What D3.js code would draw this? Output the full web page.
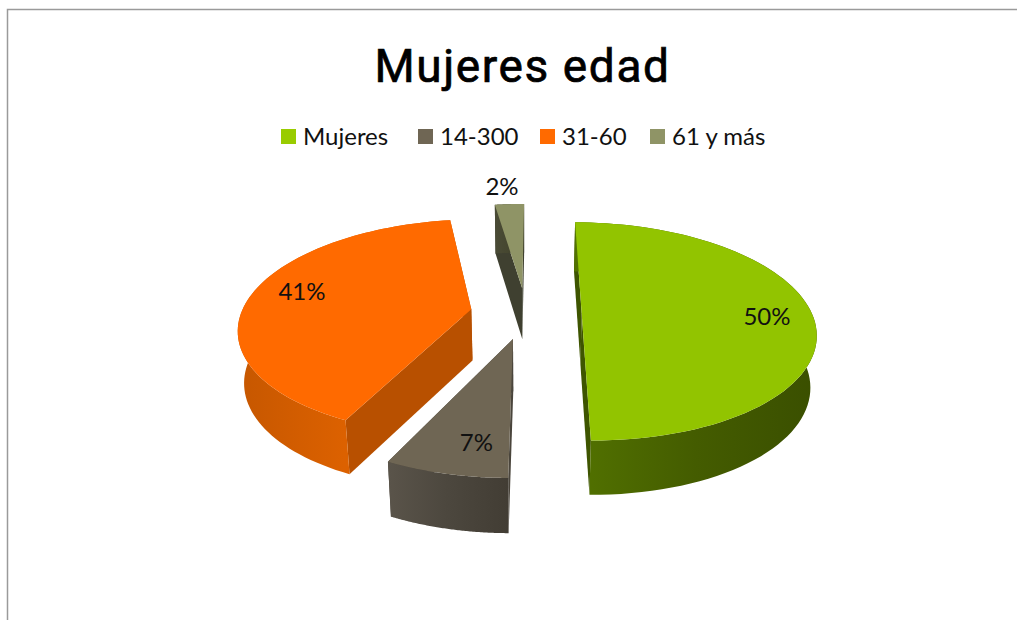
<!DOCTYPE html>
<html>
<head>
<meta charset="utf-8">
<script src="https://cdn.jsdelivr.net/npm/d3@7/dist/d3.min.js"></script>
<style>
html,body{margin:0;padding:0;background:#fff;overflow:hidden}
svg{display:block}
</style>
</head>
<body>
<svg id="chart" width="1017" height="620"></svg>
<script>
const title = "Mujeres edad";
const categories = ["Mujeres", "14-300", "31-60", "61 y más"];
const percents = [50, 7, 40.55, 2.45];
const legendColors = ["#99cc00", "#6f6654", "#ff6a00", "#8f9466"];
const topColors = ["#92c400", "#6f6654", "#ff6a00", "#8f9466"];
const wallStart = ["#527200", "#5a544a", "#c65700", "#4a4b36"];
const wallMid = ["#445c00", "#4c473e", "#dc6100", "#45462f"];
const wallEnd = ["#3a4f00", "#423d34", "#dc6100", "#3e3f2c"];
const cutColors = ["#3e5500", "#4a453c", "#b85000", "#3f4030"];
const labelRadius = [0.8, 0.79, 0.79, 1.25];
const labelTurn = [1.5, -3, 3.5, -1];

const W = 1017, H = 620;
const cx = 526, cy = 313, Rx = 230, Ry = 106;
const persp = 1 / 6, explode = 0.242, depth = 51.5, converge = 0.022;
const svg = d3.select("#chart");

const sx = d3.scaleLinear().domain([-1, 1]).range([cx - Rx, cx + Rx]);
const sy = d3.scaleLinear().domain([-1, 1]).range([cy - Ry, cy + Ry]);

function project(X, Y, low) {
  const s = 1 / (1 - persp * Y);
  let x = cx + (sx(X) - cx) * s;
  let y = cy + (sy(Y) - cy) * s;
  if (low) {
    x = cx + (x - cx) * (1 - converge);
    y += depth * Math.pow(s, 0.3);
  }
  return [x, y];
}

const startDeg = 0.4;
const pie = d3.pie().sort(null)
  .startAngle(startDeg * Math.PI / 180)
  .endAngle((startDeg + 360) * Math.PI / 180);
const arcs = pie(percents);
const line = d3.line();

// frame
svg.append("path")
  .attr("d", d3.line()([[7.5, H], [7.5, 9.5], [W, 9.5]]))
  .attr("fill", "none").attr("stroke", "#9a9a9a").attr("stroke-width", 1.5);

// title
svg.append("text").text(title)
  .attr("x", 522.5).attr("y", 82)
  .attr("text-anchor", "middle")
  .style("font-family", "Roboto, sans-serif")
  .style("font-weight", 400)
  .style("font-size", "46px")
  .style("letter-spacing", "1.6px")
  .attr("fill", "#000")
  .attr("stroke", "#000")
  .attr("stroke-width", 0.7);

// legend
const legendBoxX = d3.scaleOrdinal().domain(categories).range([281, 418, 540, 650]);
const legend = svg.append("g").selectAll("g").data(categories).join("g")
  .attr("transform", d => `translate(${legendBoxX(d)},129)`);
legend.append("rect").attr("width", 15).attr("height", 15)
  .attr("fill", (d, i) => legendColors[i]);
legend.append("text").text(d => d)
  .attr("x", 22).attr("y", 16)
  .style("font-family", "Lato, sans-serif")
  .style("font-size", "24px")
  .attr("fill", "#111");

const defs = svg.append("defs");
const slices = svg.append("g");

// draw order: far slices first
const order = arcs.map((a, i) => i).sort((a, b) => {
  const my = i => -Math.cos((arcs[i].startAngle + arcs[i].endAngle) / 2);
  return my(a) - my(b);
});

order.forEach(i => {
  const a = arcs[i];
  const mid = (a.startAngle + a.endAngle) / 2;
  const ox = Math.sin(mid) * explode, oy = -Math.cos(mid) * explode;
  const pt = (r, t, low) => project(ox + r * Math.sin(t), oy - r * Math.cos(t), low);
  const ts = d3.range(0, 81).map(k => a.startAngle + (a.endAngle - a.startAngle) * k / 80);
  const rimTop = ts.map(t => pt(1, t, false));
  const rimLow = ts.map(t => pt(1, t, true));
  const g = slices.append("g");

  // cut faces, farther one first
  const edges = [a.startAngle, a.endAngle]
    .sort((p, q) => (-Math.cos(p)) - (-Math.cos(q)));
  edges.forEach(t => {
    g.append("path")
      .attr("d", line([pt(0, t, false), pt(1, t, false), pt(1, t, true), pt(0, t, true)]) + "Z")
      .attr("fill", cutColors[i]);
  });

  // outer wall with a horizontal shading ramp
  const xs = d3.extent(rimTop, p => p[0]);
  const id = "wall" + i;
  const grad = defs.append("linearGradient").attr("id", id)
    .attr("gradientUnits", "userSpaceOnUse")
    .attr("x1", xs[0]).attr("x2", xs[1]).attr("y1", 0).attr("y2", 0);
  [wallStart[i], wallMid[i], wallEnd[i]].forEach((c, k) =>
    grad.append("stop").attr("offset", k / 2).attr("stop-color", c));
  g.append("path")
    .attr("d", line(rimTop.concat(rimLow.slice().reverse())) + "Z")
    .attr("fill", `url(#${id})`);

  // top face
  g.append("path")
    .attr("d", line([pt(0, a.startAngle, false)].concat(rimTop)) + "Z")
    .attr("fill", topColors[i]);
});

// percent labels
svg.append("g").selectAll("text").data(arcs).join("text")
  .text(d => Math.round(d.data) + "%")
  .attr("transform", (d, i) => {
    const mid = (d.startAngle + d.endAngle) / 2 + labelTurn[i] * Math.PI / 180;
    const r = labelRadius[i] + explode;
    const p = project(r * Math.sin(mid), -r * Math.cos(mid), false);
    return `translate(${p[0]},${p[1]})`;
  })
  .attr("text-anchor", "middle")
  .attr("dy", "0.36em")
  .style("font-family", "Lato, sans-serif")
  .style("font-size", "24px")
  .attr("fill", "#111");
</script>
</body>
</html>
